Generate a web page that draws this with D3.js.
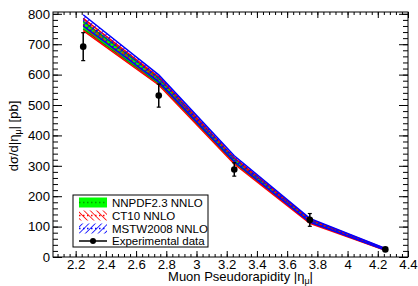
<!DOCTYPE html>
<html>
<head>
<meta charset="utf-8">
<script src="https://cdn.jsdelivr.net/npm/d3@7"></script>
<style>
  body { margin: 0; background: #fff; }
  svg { display: block; font-family: "Liberation Sans", Arial, Helvetica, sans-serif; }
</style>
</head>
<body>
<svg id="chart" width="418" height="286"></svg>
<script>
// muon pseudorapidity bins (centres)
const eta = [2.25, 2.75, 3.25, 3.75, 4.25];

// measured cross section, pb
const expVal = [692, 531, 288, 122, 25];
const expErr = [46, 38, 22, 21, 4];

// theory bands (lo / hi)
const nnpdfLo = [750, 570, 310, 114, 23];
const nnpdfHi = [775, 590, 325, 123, 26];
const ct10Lo = [745, 566, 306, 111, 22];
const ct10Hi = [785, 592, 326, 124, 27];
const mstwLo = [760, 576, 314, 115, 23];
const mstwHi = [797, 599, 333, 127, 28];

const xTicks = [2.2, 2.4, 2.6, 2.8, 3, 3.2, 3.4, 3.6, 3.8, 4, 4.2, 4.4];
const yTicks = [0, 100, 200, 300, 400, 500, 600, 700, 800];

const legendLabels = ["NNPDF2.3 NNLO", "CT10 NNLO", "MSTW2008 NNLO", "Experimental data"];

const svg = d3.select("#chart");
const padL = 53, padR = 408, padT = 12, padB = 257;

const x = d3.scaleLinear().domain([2.05, 4.4]).range([padL, padR]);
const y = d3.scaleLinear().domain([0, 806]).range([padB, padT]);

// hatch patterns like ROOT 3004 / 3005
const defs = svg.append("defs");
function hatch(id, color, angle) {
    const p = defs.append("pattern")
        .attr("id", id)
        .attr("patternUnits", "userSpaceOnUse")
        .attr("width", 4.5).attr("height", 4.5)
        .attr("patternTransform", "rotate(" + angle + ")");
    p.append("line")
        .attr("x1", 0).attr("y1", 0).attr("x2", 0).attr("y2", 4.5)
        .attr("stroke", color).attr("stroke-width", 1.6);
}
hatch("hatchRed", "#ff0000", -45);
hatch("hatchBlue", "#0000ff", 45);

const minorX = d3.range(2.08, 4.41, 0.04).map(v => +v.toFixed(2));
const minorY = d3.range(0, 806, 20);

// ticks (inward, mirrored on all sides)
function ticks(axisFn, scale, vals, size, tr, labels, pad) {
    const a = axisFn(scale).tickValues(vals).tickSize(-size);
    if (labels) a.tickFormat(d3.format("")).tickPadding(pad);
    else a.tickFormat("");
    const g = svg.append("g").attr("transform", tr).call(a);
    g.select(".domain").remove();
    g.selectAll("line").attr("stroke", "#000").attr("stroke-width", 1);
    g.selectAll("text").attr("fill", "#000").attr("font-size", 13.2)
        .attr("font-family", "Liberation Sans, Arial, sans-serif");
    return g;
}
ticks(d3.axisBottom, x, xTicks, 6, `translate(0,${padB})`, true, 2.5);
ticks(d3.axisBottom, x, minorX, 3, `translate(0,${padB})`, false);
ticks(d3.axisTop, x, xTicks, 6, `translate(0,${padT})`, false);
ticks(d3.axisTop, x, minorX, 3, `translate(0,${padT})`, false);
ticks(d3.axisLeft, y, yTicks, 9, `translate(${padL},0)`, true, 3);
ticks(d3.axisLeft, y, minorY, 5, `translate(${padL},0)`, false);
ticks(d3.axisRight, y, yTicks, 9, `translate(${padR},0)`, false);
ticks(d3.axisRight, y, minorY, 5, `translate(${padR},0)`, false);

// bands
function band(lo, hi, fill, color) {
    const pts = eta.map((e, i) => ({ e: e, lo: lo[i], hi: hi[i] }));
    svg.append("path").datum(pts)
        .attr("d", d3.area().x(d => x(d.e)).y0(d => y(d.lo)).y1(d => y(d.hi)))
        .attr("fill", fill);
    [lo, hi].forEach(arr => {
        svg.append("path").datum(eta.map((e, i) => [e, arr[i]]))
            .attr("d", d3.line().x(d => x(d[0])).y(d => y(d[1])))
            .attr("fill", "none").attr("stroke", color).attr("stroke-width", 1.5);
    });
    svg.append("path").datum(eta.map((e, i) => [e, (lo[i] + hi[i]) / 2]))
        .attr("d", d3.line().x(d => x(d[0])).y(d => y(d[1])))
        .attr("fill", "none").attr("stroke", color).attr("stroke-width", 1.5)
        .attr("stroke-dasharray", "1.5,2.5");
}
band(nnpdfLo, nnpdfHi, "#00ff00", "#00a000");
band(ct10Lo, ct10Hi, "url(#hatchRed)", "#ff0000");
band(mstwLo, mstwHi, "url(#hatchBlue)", "#0000ff");

// experimental points
const pts = svg.append("g");
eta.forEach((e, i) => {
    const cx = x(e);
    pts.append("line")
        .attr("x1", cx).attr("x2", cx)
        .attr("y1", y(expVal[i] - expErr[i])).attr("y2", y(expVal[i] + expErr[i]))
        .attr("stroke", "#000").attr("stroke-width", 1.5);
    [expVal[i] - expErr[i], expVal[i] + expErr[i]].forEach(v => {
        pts.append("line")
            .attr("x1", cx - 2).attr("x2", cx + 2)
            .attr("y1", y(v)).attr("y2", y(v))
            .attr("stroke", "#000").attr("stroke-width", 1.2);
    });
    pts.append("circle").attr("cx", cx).attr("cy", y(expVal[i])).attr("r", 3.3).attr("fill", "#000");
});

// frame
svg.append("rect")
    .attr("x", padL).attr("y", padT)
    .attr("width", padR - padL).attr("height", padB - padT)
    .attr("fill", "none").attr("stroke", "#000").attr("stroke-width", 1);

// axis titles
const xt = svg.append("text")
    .attr("x", 313).attr("y", 281)
    .attr("text-anchor", "end").attr("font-size", 13);
xt.append("tspan").text("Muon Pseudorapidity |η");
xt.append("tspan").attr("font-size", 9).attr("dy", 3).text("μ");
xt.append("tspan").attr("dy", -3).text("|");

const yt = svg.append("text")
    .attr("transform", "translate(18,136) rotate(-90)")
    .attr("text-anchor", "middle").attr("font-size", 13);
yt.append("tspan").text("dσ/d|η");
yt.append("tspan").attr("font-size", 9).attr("dy", 3).text("μ");
yt.append("tspan").attr("dy", -3).text("| [pb]");

// legend
const lg = svg.append("g");
lg.append("rect")
    .attr("x", 73).attr("y", 195).attr("width", 135).attr("height", 52)
    .attr("fill", "#fff").attr("stroke", "#000").attr("stroke-width", 1);
const rowY = [202.5, 215.5, 228.5, 241];
const swFill = ["#00ff00", "url(#hatchRed)", "url(#hatchBlue)"];
const swLine = ["#00a000", "#ff0000", "#0000ff"];
legendLabels.forEach((lab, i) => {
    const cy = rowY[i];
    if (i < 3) {
        lg.append("rect").attr("x", 79).attr("y", cy - 5).attr("width", 28).attr("height", 10)
            .attr("fill", swFill[i]);
        lg.append("line").attr("x1", 79).attr("x2", 107).attr("y1", cy).attr("y2", cy)
            .attr("stroke", swLine[i]).attr("stroke-width", 1.5).attr("stroke-dasharray", "1.5,2.5");
    } else {
        lg.append("line").attr("x1", 79).attr("x2", 107).attr("y1", cy).attr("y2", cy)
            .attr("stroke", "#000").attr("stroke-width", 1.5);
        lg.append("circle").attr("cx", 93).attr("cy", cy).attr("r", 3).attr("fill", "#000");
    }
    lg.append("text").attr("x", 112).attr("y", cy + 4.2)
        .attr("font-size", 11.5).text(lab);
});
</script>
</body>
</html>
